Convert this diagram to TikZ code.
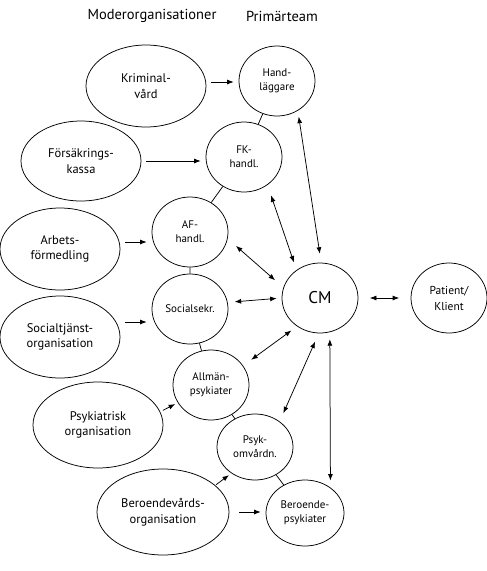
\documentclass[tikz,border=0pt]{standalone}
\usepackage{fontspec}
\setmainfont{PT Sans}
\usetikzlibrary{arrows.meta,shapes.geometric}
\newcommand{\tip}{Latex[length=6.5pt,width=5pt]} % Arrow head.

\begin{document}
\begin{tikzpicture}[x=1pt,y=1pt,line width=0.75pt,
  title/.style={font=\fontsize{14.5}{17}\selectfont},
  org/.style={draw,ellipse,minimum width=120pt,minimum height=82pt,inner sep=1pt,
    align=center,font=\fontsize{12.5}{15.5}\selectfont},
  team/.style={draw,ellipse,minimum width=76pt,minimum height=70pt,inner sep=0pt,
    align=center,font=\fontsize{11}{14}\selectfont},
  arr/.style={-{\tip},shorten >=5pt,shorten <=5pt},
  darr/.style={{\tip}-{\tip}}]
\useasboundingbox (0,0) rectangle (487,-571);

\node[title] (tmoder) at (152,-16) {Moderorganisationer};
\node[title] (tprim) at (282,-16) {Primärteam};

% Moderorganisationer
\node[org] (krim) at (146,-86) {Kriminal-\\vård};
\node[org,minimum height=80pt] (fors) at (81,-161) {Försäkrings-\\kassa};
\node[org] (arb) at (60,-249) {Arbets-\\förmedling};
\node[org] (soc) at (60,-337) {Socialtjänst-\\organisation};
\node[org,minimum width=130pt,minimum height=86pt] (psyorg) at (98,-425) {Psykiatrisk\\organisation};
\node[org,minimum width=132pt,minimum height=86pt] (ber) at (163,-512) {Beroendevårds-\\organisation};

% Primärteam
\node[team] (hand) at (277,-81) {Hand-\\läggare};
\node[team] (fk) at (244,-157) {FK-\\handl.};
\node[team] (af) at (190,-232) {AF-\\handl.};
\node[team] (sek) at (190,-309) {Socialsekr.};
\node[team] (allm) at (211,-385) {Allmän-\\psykiater};
\node[team,minimum height=66pt] (psyk) at (255,-447) {Psyk-\\omvårdn.};
\node[team,minimum width=78pt,minimum height=66pt] (berpsy) at (305,-513) {Beroende-\\psykiater};
\node[team,font=\fontsize{17}{20}\selectfont] (cm) at (320,-298) {CM};
\node[team,font=\fontsize{11.5}{16}\selectfont] (pat) at (449,-298) {Patient/\\Klient};

\draw (hand) -- (fk) -- (af) -- (sek) -- (allm) -- (psyk) -- (berpsy);

\draw[arr] ([yshift=4pt]krim.east) -- ([yshift=4pt]krim.east -| hand.west);
\draw[arr] (fors.east) -- (fors.east -| fk.west);
\draw[arr] ([yshift=7pt]arb.east) -- ([yshift=7pt]arb.east -| af.west);
\draw[arr] ([yshift=15pt]soc.east) -- ([yshift=15pt]soc.east -| sek.west);
\draw[arr,shorten <=3pt,shorten >=3pt] (psyorg.12) -- (allm.208);
\draw[arr,shorten <=1pt,shorten >=3pt] (ber.27) -- (psyk.228);
\draw[arr,shorten <=10pt] (ber.east) -- (ber.east -| berpsy.west);

\draw[darr,shorten <=6pt,shorten >=9pt] (hand.-55) -- (cm.88);
\draw[darr,shorten <=11pt,shorten >=8pt] (fk.-50) -- (cm.130);
\draw[darr,shorten <=11pt,shorten >=11pt] (af.-10) -- (cm.164);
\draw[darr,shorten <=7pt,shorten >=5pt] (sek.10) -- (cm.180);
\draw[darr,shorten <=10pt,shorten >=7pt] (allm.31) -- (cm.-129);
\draw[darr,shorten <=9pt,shorten >=9pt] (psyk.46) -- (cm.-92);
\draw[darr,shorten <=7pt,shorten >=7pt] (berpsy.45) -- (cm.-74);
\draw[darr,shorten <=11.5pt,shorten >=11.5pt] (cm) -- (pat);
\end{tikzpicture}
\end{document}
